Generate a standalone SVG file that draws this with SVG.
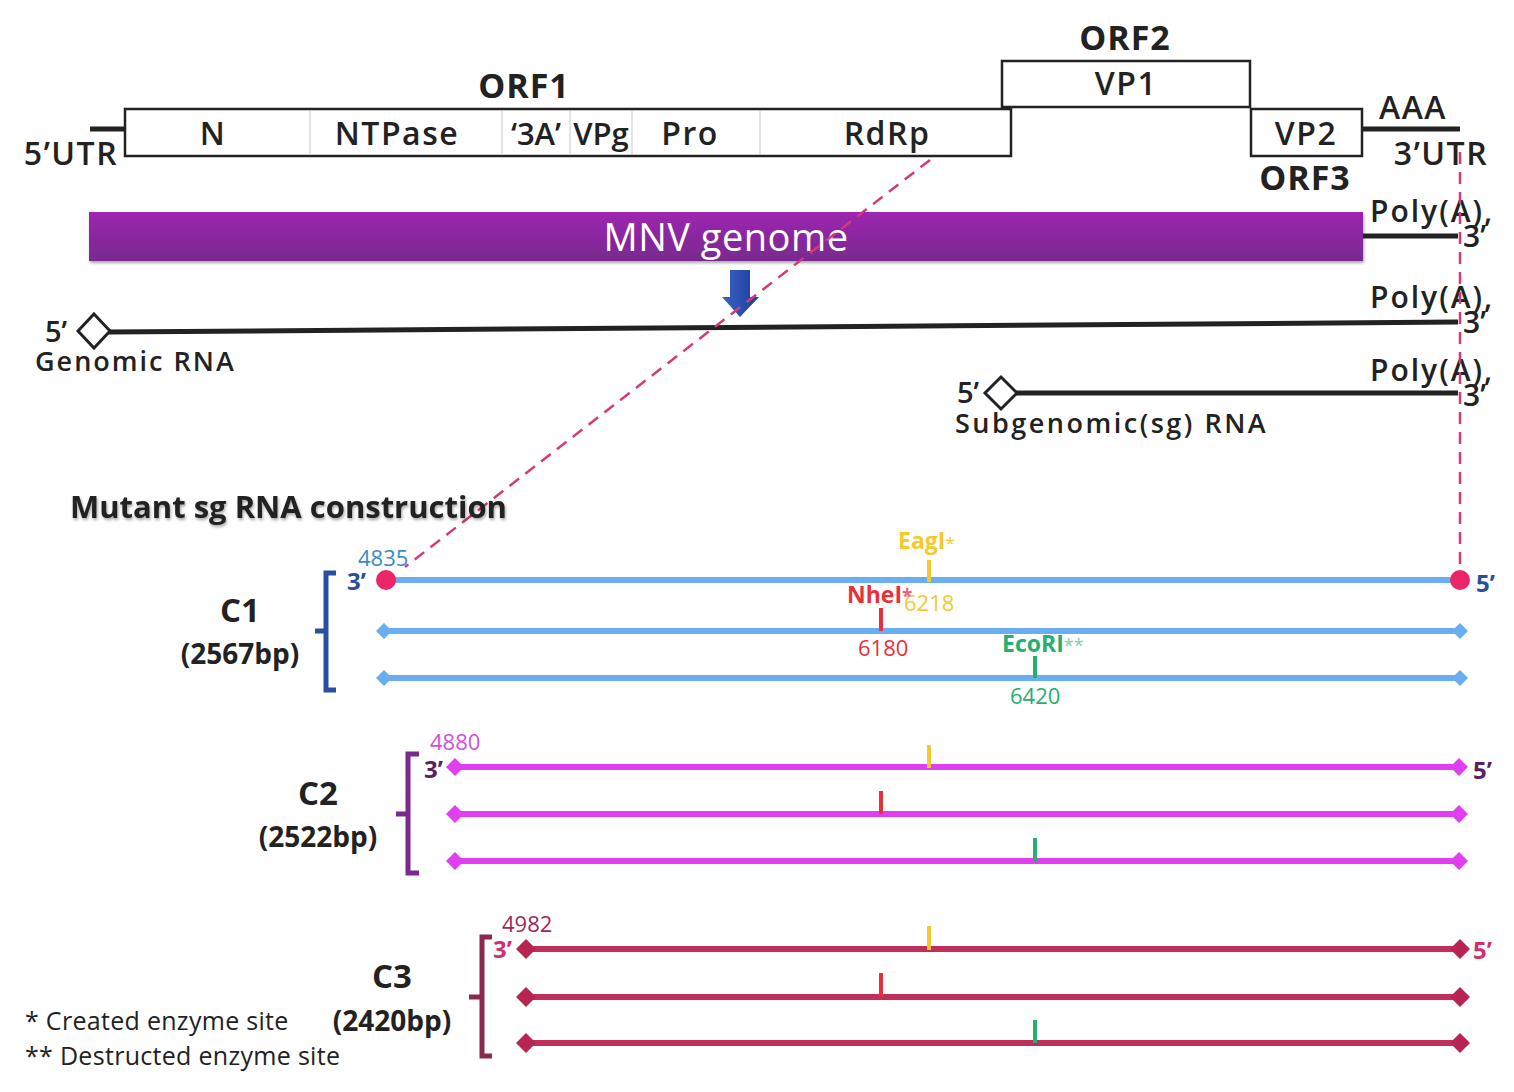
<svg xmlns="http://www.w3.org/2000/svg" width="1514" height="1092" viewBox="0 0 1514 1092">
<defs>
<linearGradient id="pg" x1="0" y1="0" x2="0" y2="1">
<stop offset="0" stop-color="#9d25b1"/>
<stop offset="1" stop-color="#782a8e"/>
</linearGradient>
<linearGradient id="bg" x1="0" y1="0" x2="1" y2="0">
<stop offset="0" stop-color="#3a63c8"/>
<stop offset="1" stop-color="#1c3c98"/>
</linearGradient>
<filter id="sh" x="-5%" y="-20%" width="110%" height="160%">
<feDropShadow dx="1" dy="2" stdDeviation="1.5" flood-color="#000" flood-opacity="0.35"/>
</filter>
</defs>
<style>
text{font-family:"Open Sans","Noto Sans","Liberation Sans",sans-serif;}
.b{font-weight:700;fill:#222;}
.s{font-weight:600;fill:#222;}
.box{fill:#fff;stroke:#222;stroke-width:2.5;}
.div{stroke:#ddd;stroke-width:1.5;}
.blk{stroke:#222;stroke-width:5;fill:none;}
.dash{stroke:#d43a7a;stroke-width:2.5;stroke-dasharray:12 8;fill:none;}
.l1{stroke:#68aef0;stroke-width:6;}
.l2{stroke:#e03ef0;stroke-width:6;}
.l3{stroke:#c02f5c;stroke-width:6;}
.num{font-size:22px;font-weight:400;}
.enz{font-size:23px;font-weight:700;}
.y{stroke:#f3c92e;stroke-width:4;}
.r{stroke:#e8303a;stroke-width:4;}
.g{stroke:#25b06e;stroke-width:4;}
.lbl{font-size:33px;font-weight:700;fill:#222;}
.bp{font-size:28px;font-weight:700;fill:#222;}
.orf{font-size:34px;letter-spacing:1px;}
.in{font-size:32px;letter-spacing:1.5px;}
.pa{font-size:30px;letter-spacing:2px;}
.end{font-size:24px;font-weight:700;}
</style>

<g id="genome-map">
<line x1="90" y1="129" x2="125" y2="129" class="blk"/>
<rect x="125" y="109" width="886" height="47" class="box"/>
<line x1="310" y1="111" x2="310" y2="154" class="div"/>
<line x1="502" y1="111" x2="502" y2="154" class="div"/>
<line x1="570" y1="111" x2="570" y2="154" class="div"/>
<line x1="632" y1="111" x2="632" y2="154" class="div"/>
<line x1="760" y1="111" x2="760" y2="154" class="div"/>
<rect x="1002" y="61" width="248" height="46" class="box"/>
<rect x="1251" y="109" width="111" height="47" class="box"/>
<line x1="1362" y1="129" x2="1460" y2="129" class="blk"/>
<text x="524" y="98" class="b orf" text-anchor="middle">ORF1</text>
<text x="1125" y="50" class="b orf" text-anchor="middle">ORF2</text>
<text x="1305" y="190" class="b orf" text-anchor="middle">ORF3</text>
<text x="213" y="145" class="s in" text-anchor="middle">N</text>
<text x="397" y="145" class="s in" text-anchor="middle">NTPase</text>
<text x="536" y="145" class="s" font-size="31" text-anchor="middle">‘3A’</text>
<text x="601" y="145" class="s" font-size="31" text-anchor="middle">VPg</text>
<text x="690" y="145" class="s in" text-anchor="middle">Pro</text>
<text x="887" y="145" class="s in" text-anchor="middle">RdRp</text>
<text x="1126" y="95" class="s in" text-anchor="middle">VP1</text>
<text x="1306" y="145" class="s in" text-anchor="middle">VP2</text>
<text x="71" y="165" class="s in" text-anchor="middle">5’UTR</text>
<text x="1413" y="119" class="s in" text-anchor="middle">AAA</text>
<text x="1441" y="165" class="s in" text-anchor="middle">3’UTR</text>
</g>

<g id="mnv-genome">
<rect x="89" y="212" width="1274" height="49" fill="url(#pg)" filter="url(#sh)"/>
<text x="726" y="251" font-size="38" fill="#fff" text-anchor="middle" letter-spacing="0.5">MNV genome</text>
<line x1="1363" y1="236" x2="1458" y2="236" class="blk"/>
<text x="1370" y="222" class="s pa">Poly(A),</text>
<text x="1463" y="247" class="s" font-size="30">3’</text>
</g>

<g id="arrow">
<polygon points="730,270 750,270 750,297 759,297 740,317 722,297 730,297" fill="url(#bg)"/>
</g>

<g id="genomic-rna">
<line x1="108" y1="332" x2="1458" y2="322" class="blk"/>
<polygon points="94,314 110,331 94,348 78,331" fill="#fff" stroke="#222" stroke-width="3"/>
<text x="45" y="342" class="s" font-size="29">5’</text>
<text x="35" y="371" class="s" font-size="27" letter-spacing="2">Genomic RNA</text>
<text x="1370" y="308" class="s pa">Poly(A),</text>
<text x="1463" y="333" class="s" font-size="30">3’</text>
</g>

<g id="sg-rna">
<line x1="1016" y1="393" x2="1458" y2="393" class="blk"/>
<polygon points="1001,377 1017,393 1001,409 985,393" fill="#fff" stroke="#222" stroke-width="3"/>
<text x="957" y="403" class="s" font-size="29">5’</text>
<text x="955" y="433" class="s" font-size="27" letter-spacing="2.5">Subgenomic(sg) RNA</text>
<text x="1370" y="381" class="s pa">Poly(A),</text>
<text x="1463" y="406" class="s" font-size="30">3’</text>
</g>

<g id="connectors">
<line x1="930" y1="160" x2="405" y2="567" class="dash"/>
<line x1="1460" y1="152" x2="1460" y2="575" class="dash"/>
</g>

<text x="70" y="518" class="b" font-size="31" fill="#333" filter="url(#sh)">Mutant sg RNA construction</text>

<g id="C1">
<path d="M336,573 H326 V690 H336 M326,631 H315" stroke="#2850a0" stroke-width="5" fill="none"/>
<text x="240" y="622" class="lbl" text-anchor="middle">C1</text>
<text x="240" y="664" class="bp" text-anchor="middle">(2567bp)</text>
<line x1="385" y1="580" x2="1460" y2="580" class="l1"/>
<line x1="385" y1="631" x2="1460" y2="631" class="l1"/>
<line x1="385" y1="678" x2="1460" y2="678" class="l1"/>
<circle cx="386" cy="580" r="10" fill="#ec2468"/>
<circle cx="1460" cy="580" r="10" fill="#ec2468"/>
<polygon points="376,631 384,623 392,631 384,639" fill="#68aef0"/>
<polygon points="1452,631 1460,623 1468,631 1460,639" fill="#68aef0"/>
<polygon points="376,678 384,670 392,678 384,686" fill="#68aef0"/>
<polygon points="1452,678 1460,670 1468,678 1460,686" fill="#68aef0"/>
<text x="347" y="590" class="end" fill="#2a4f9a">3’</text>
<text x="1476" y="592" class="end" fill="#2a4f9a">5’</text>
<text x="358" y="566" class="num" fill="#3a8cc4">4835</text>
<line x1="929" y1="560" x2="929" y2="582" class="y"/>
<line x1="881" y1="608" x2="881" y2="631" class="r"/>
<line x1="1035" y1="656" x2="1035" y2="678" class="g"/>
<text x="898" y="549" class="enz" fill="#f3c92e">EagI<tspan font-size="17" font-weight="400">*</tspan></text>
<text x="904" y="611" class="num" fill="#f3c92e">6218</text>
<text x="847" y="603" class="enz" fill="#e8303a">NheI<tspan font-size="19" fill="#f06080">*</tspan></text>
<text x="858" y="656" class="num" font-weight="700" fill="#e8303a">6180</text>
<text x="1002" y="652" class="enz" fill="#25b06e">EcoRI<tspan font-size="18" font-weight="400" fill="#7fd0a8">**</tspan></text>
<text x="1010" y="704" class="num" font-weight="700" fill="#25b06e">6420</text>
</g>

<g id="C2">
<path d="M419,754 H408 V873 H419 M408,814 H396" stroke="#7a2a8a" stroke-width="5" fill="none"/>
<text x="318" y="805" class="lbl" text-anchor="middle">C2</text>
<text x="318" y="847" class="bp" text-anchor="middle">(2522bp)</text>
<line x1="455" y1="767" x2="1458" y2="767" class="l2"/>
<line x1="455" y1="814" x2="1458" y2="814" class="l2"/>
<line x1="455" y1="861" x2="1458" y2="861" class="l2"/>
<polygon points="446,767 455,758 464,767 455,776" fill="#e03ef0"/>
<polygon points="1450,767 1459,758 1468,767 1459,776" fill="#e03ef0"/>
<polygon points="446,814 455,805 464,814 455,823" fill="#e03ef0"/>
<polygon points="1450,814 1459,805 1468,814 1459,823" fill="#e03ef0"/>
<polygon points="446,861 455,852 464,861 455,870" fill="#e03ef0"/>
<polygon points="1450,861 1459,852 1468,861 1459,870" fill="#e03ef0"/>
<text x="424" y="778" class="end" fill="#5a2060">3’</text>
<text x="1473" y="779" class="end" fill="#5a2060">5’</text>
<text x="430" y="750" class="num" fill="#d050e0">4880</text>
<line x1="929" y1="745" x2="929" y2="768" class="y"/>
<line x1="881" y1="791" x2="881" y2="814" class="r"/>
<line x1="1035" y1="838" x2="1035" y2="861" class="g"/>
</g>

<g id="C3">
<path d="M492,937 H482 V1056 H492 M482,997 H469" stroke="#8a2a50" stroke-width="5" fill="none"/>
<text x="392" y="988" class="lbl" text-anchor="middle">C3</text>
<text x="392" y="1031" class="bp" text-anchor="middle">(2420bp)</text>
<line x1="526" y1="949" x2="1458" y2="949" class="l3"/>
<line x1="526" y1="997" x2="1458" y2="997" class="l3"/>
<line x1="526" y1="1043" x2="1458" y2="1043" class="l3"/>
<polygon points="516,949 526,939 536,949 526,959" fill="#b82552"/>
<polygon points="1450,949 1460,939 1470,949 1460,959" fill="#b82552"/>
<polygon points="516,997 526,987 536,997 526,1007" fill="#b82552"/>
<polygon points="1450,997 1460,987 1470,997 1460,1007" fill="#b82552"/>
<polygon points="516,1043 526,1033 536,1043 526,1053" fill="#b82552"/>
<polygon points="1450,1043 1460,1033 1470,1043 1460,1053" fill="#b82552"/>
<text x="493" y="958" class="end" fill="#d03070">3’</text>
<text x="1473" y="959" class="end" fill="#d03070">5’</text>
<text x="502" y="932" class="num" fill="#a02858">4982</text>
<line x1="929" y1="926" x2="929" y2="950" class="y"/>
<line x1="881" y1="973" x2="881" y2="997" class="r"/>
<line x1="1035" y1="1020" x2="1035" y2="1043" class="g"/>
</g>

<g id="legend">
<text x="25" y="1030" font-size="25" fill="#222" letter-spacing="0.3">* Created enzyme site</text>
<text x="25" y="1065" font-size="25" fill="#222" letter-spacing="0.3">** Destructed enzyme site</text>
</g>
</svg>
